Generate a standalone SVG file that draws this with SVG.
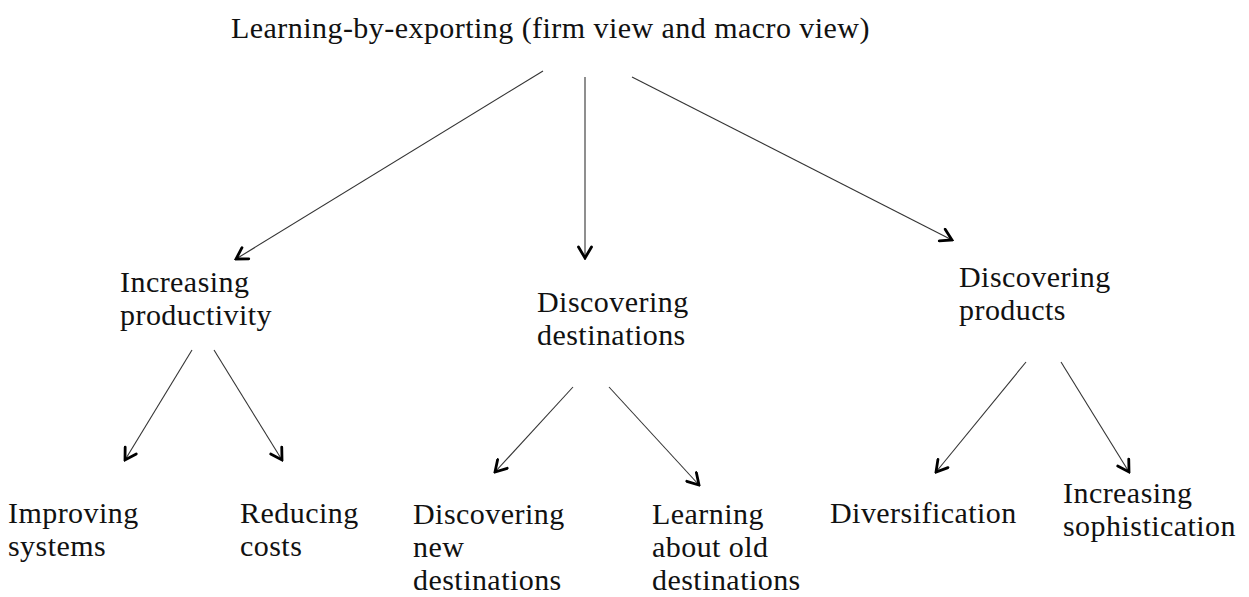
<svg xmlns="http://www.w3.org/2000/svg" width="1249" height="597" viewBox="0 0 1249 597">
  <style>
    text { font-family: "Liberation Serif", "DejaVu Serif", serif; font-size: 30px; letter-spacing: 0.45px; fill: #111; }
    .edge { stroke: #333; stroke-width: 1.1; fill: none; marker-end: url(#arrow); }
  </style>
  <defs>
    <marker id="arrow" viewBox="-14 -8 16 16" markerWidth="16" markerHeight="16" refX="0" refY="0" orient="auto" markerUnits="userSpaceOnUse">
      <path d="M-11,-6.5 L0,0 L-11,6.5" fill="none" stroke="#000" stroke-width="2.8" stroke-linecap="round" stroke-linejoin="miter"/>
    </marker>
  </defs>
  <rect width="1249" height="597" fill="#fff"/>

  <g id="connectors">
    <line class="edge" x1="543" y1="71" x2="236" y2="259"/>
    <line class="edge" x1="585" y1="77" x2="585" y2="258"/>
    <line class="edge" x1="632" y1="77" x2="952" y2="240"/>
    <line class="edge" x1="192" y1="350" x2="125" y2="460"/>
    <line class="edge" x1="214" y1="350" x2="282" y2="460"/>
    <line class="edge" x1="573" y1="387" x2="495" y2="472"/>
    <line class="edge" x1="609" y1="387" x2="699" y2="485"/>
    <line class="edge" x1="1026" y1="362" x2="936" y2="472"/>
    <line class="edge" x1="1061" y1="362" x2="1129" y2="472"/>
  </g>

  <g id="root"><text x="231" y="38">Learning-by-exporting (firm view and macro view)</text></g>

  <g id="productivity"><text x="120" y="292">Increasing</text><text x="120" y="325">productivity</text></g>
  <g id="destinations"><text x="537" y="312">Discovering</text><text x="537" y="345">destinations</text></g>
  <g id="products"><text x="959" y="287">Discovering</text><text x="959" y="320">products</text></g>

  <g id="improving-systems"><text x="8" y="523">Improving</text><text x="8" y="556">systems</text></g>
  <g id="reducing-costs"><text x="240" y="523">Reducing</text><text x="240" y="556">costs</text></g>
  <g id="new-destinations"><text x="413" y="524">Discovering</text><text x="413" y="557">new</text><text x="413" y="590">destinations</text></g>
  <g id="old-destinations"><text x="652" y="524">Learning</text><text x="652" y="557">about old</text><text x="652" y="590">destinations</text></g>
  <g id="diversification"><text x="830" y="523">Diversification</text></g>
  <g id="sophistication"><text x="1063" y="503">Increasing</text><text x="1063" y="536">sophistication</text></g>
</svg>
